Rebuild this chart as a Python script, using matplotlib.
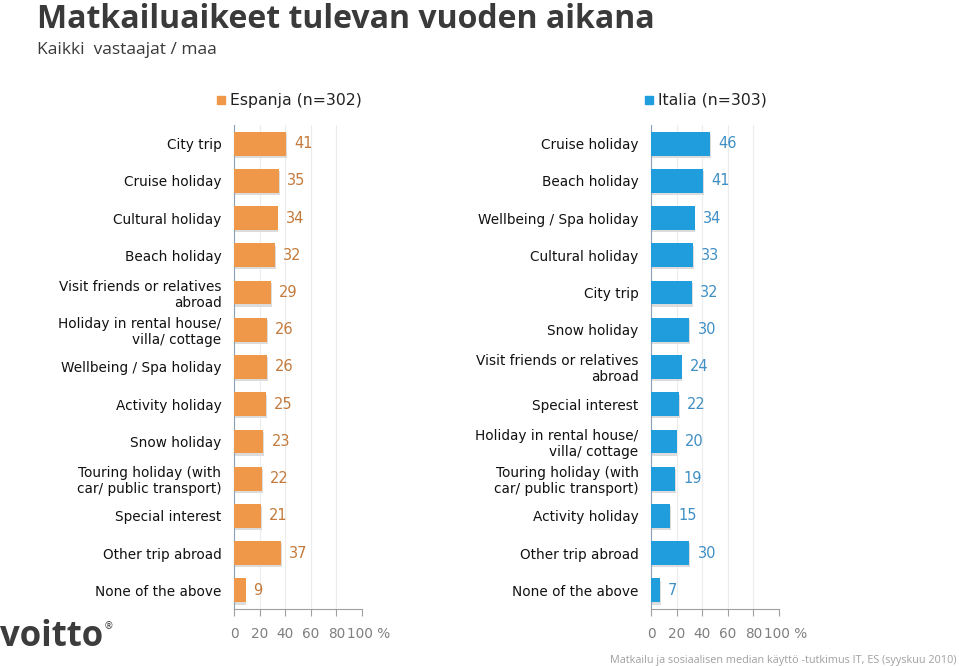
import matplotlib
matplotlib.use("Agg")
import matplotlib.pyplot as plt
import matplotlib.transforms as mtransforms

# data
es_labels = ["City trip", "Cruise holiday", "Cultural holiday", "Beach holiday",
             "Visit friends or relatives\nabroad", "Holiday in rental house/\nvilla/ cottage",
             "Wellbeing / Spa holiday", "Activity holiday", "Snow holiday",
             "Touring holiday (with\ncar/ public transport)", "Special interest",
             "Other trip abroad", "None of the above"]
es_values = [41, 35, 34, 32, 29, 26, 26, 25, 23, 22, 21, 37, 9]

it_labels = ["Cruise holiday", "Beach holiday", "Wellbeing / Spa holiday", "Cultural holiday",
             "City trip", "Snow holiday", "Visit friends or relatives\nabroad",
             "Special interest", "Holiday in rental house/\nvilla/ cottage",
             "Touring holiday (with\ncar/ public transport)", "Activity holiday",
             "Other trip abroad", "None of the above"]
it_values = [46, 41, 34, 33, 32, 30, 24, 22, 20, 19, 15, 30, 7]

ticks = [0, 20, 40, 60, 80, 100]
tick_labels = ["0", "20", "40", "60", "80", "100 %"]

W, H = 959, 666
fig = plt.figure(figsize=(W / 100, H / 100), dpi=100)
fig.patch.set_facecolor("white")

def px_axes(x0, y0, x1, y1):
    return fig.add_axes([x0 / W, 1 - y1 / H, (x1 - x0) / W, (y1 - y0) / H])

def panel(ax, labels, values, color, tcolor):
    n = len(values)
    ys = list(range(n))
    # soft shadow
    ax.barh([y + 0.06 for y in ys], [v + 0.6 for v in values], height=0.64,
            color="#dcdcdc", zorder=2)
    ax.barh(ys, values, height=0.64, color=color, zorder=3)
    for y, v in zip(ys, values):
        ax.text(v + 6.3, y, str(v), va="center", ha="left", fontsize=10.5,
                color=tcolor, zorder=4)
    ax.set_xlim(0, 100)
    ax.set_ylim(n - 0.5, -0.5)
    ax.set_yticks(ys)
    ax.set_yticklabels(labels, fontsize=9.8, color="#111111", linespacing=1.15)
    ax.tick_params(axis="y", length=0, pad=9)
    ax.set_xticks(ticks)
    ax.set_xticklabels(tick_labels, fontsize=9.8, color="#7f7f7f")
    ax.tick_params(axis="x", length=5, color="#a0a0a0", pad=8, direction="out")
    last = ax.get_xticklabels()[-1]
    last.set_transform(last.get_transform() +
                       mtransforms.ScaledTranslation(7 / 100, 0, fig.dpi_scale_trans))
    ax.grid(axis="x", color="#ececec", lw=0.8, zorder=0)
    for s in ["top", "right"]:
        ax.spines[s].set_visible(False)
    ax.spines["left"].set_color("#8ea0b8")
    ax.spines["bottom"].set_color("#a0a0a0")

ax1 = px_axes(234, 125, 362, 609)
panel(ax1, es_labels, es_values, "#f0984a", "#c47a3c")
ax2 = px_axes(651, 125, 779, 609)
panel(ax2, it_labels, it_values, "#1f9ddc", "#3f8fc4")

# title and subtitle
fig.text(37 / W, 1 - 20 / H, "Matkailuaikeet tulevan vuoden aikana", fontsize=23,
         fontweight="bold", color="#3a3a3a", va="center", ha="left", family="Open Sans")
fig.text(37 / W, 1 - 50 / H, "Kaikki  vastaajat / maa", fontsize=12.5,
         color="#3a3a3a", va="center", ha="left", family="Open Sans")

# legends
fig.patches.append(plt.Rectangle((217 / W, 1 - 104 / H), 8 / W, 8 / H,
                                 transform=fig.transFigure, color="#f0984a"))
fig.text(230 / W, 1 - 100 / H, "Espanja (n=302)", fontsize=11.3, color="#222222",
         va="center", ha="left")
fig.patches.append(plt.Rectangle((645 / W, 1 - 104 / H), 8 / W, 8 / H,
                                 transform=fig.transFigure, color="#1f9ddc"))
fig.text(658 / W, 1 - 100 / H, "Italia (n=303)", fontsize=11.3, color="#222222",
         va="center", ha="left")

# logo and footnote
fig.text(0 / W, 1 - 637 / H, "voitto", fontsize=25, fontweight="bold",
         color="#3c3c3c", va="center", ha="left", family="Open Sans")
fig.text(104 / W, 1 - 626 / H, "®", fontsize=7, color="#3c3c3c", va="center", ha="left")
fig.text(957 / W, 1 - 660 / H,
         "Matkailu ja sosiaalisen median käyttö -tutkimus IT, ES (syyskuu 2010)",
         fontsize=7.8, color="#a0a0a0", va="center", ha="right", family="Open Sans")

fig.savefig("out.png", dpi=100)
